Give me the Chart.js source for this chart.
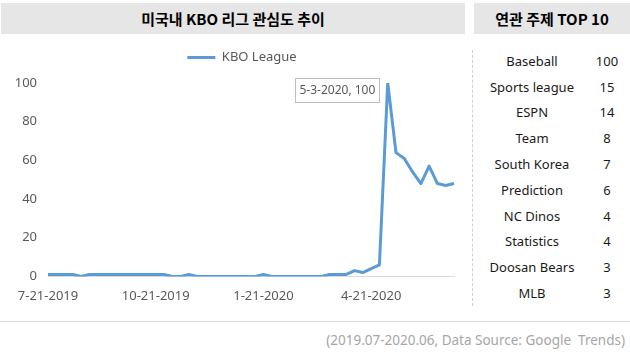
<!DOCTYPE html>
<html>
<head>
<meta charset="utf-8">
<script src="https://cdn.jsdelivr.net/npm/chart.js@4"></script>
<style>
  body { margin: 0; width: 630px; height: 353px; background: #fff; position: relative; overflow: hidden;
         font-family: "Noto Sans", "Noto Sans CJK KR", sans-serif; }
  .bar { position: absolute; top: 3px; height: 31px; background: #e6e6e6; color: #000;
         font: bold 15px "Noto Sans CJK KR", sans-serif; line-height: 31px; text-align: center; }
  #chartBox { position: absolute; left: 0; top: 35px; width: 466px; height: 287px; }
  #sep { position: absolute; left: 472px; top: 50px; height: 256px; border-left: 1px dashed #d0d0d0; }
  #topics { position: absolute; left: 480px; top: 48px; width: 150px; border-collapse: collapse;
            font-size: 13px; color: #1a1a1a; }
  #topics td { height: 25.8px; padding: 0; text-align: center; }
  #foot { position: absolute; left: 0; top: 321px; width: 630px; border-top: 1px solid #d9d9d9; }
  #src { position: absolute; right: 5px; top: 331px; font-size: 13.5px; color: #a6a6a6; }
</style>
</head>
<body>
<div class="bar" style="left:1px;width:464px;">미국내 KBO 리그 관심도 추이</div>
<div class="bar" style="left:474px;width:156px;">연관 주제 TOP 10</div>
<div id="chartBox"><canvas id="canva_line"></canvas></div>
<div id="sep"></div>
<table id="topics"></table>
<div id="foot"></div>
<div id="src">(2019.07-2020.06, Data Source: Google&nbsp; Trends)</div>

<script>
var semanas = [
    '7-21-2019', '7-28-2019', '8-4-2019', '8-11-2019', '8-18-2019', '8-25-2019',
    '9-1-2019', '9-8-2019', '9-15-2019', '9-22-2019', '9-29-2019', '10-6-2019',
    '10-13-2019', '10-20-2019', '10-27-2019', '11-3-2019', '11-10-2019', '11-17-2019',
    '11-24-2019', '12-1-2019', '12-8-2019', '12-15-2019', '12-22-2019', '12-29-2019',
    '1-5-2020', '1-12-2020', '1-19-2020', '1-26-2020', '2-2-2020', '2-9-2020',
    '2-16-2020', '2-23-2020', '3-1-2020', '3-8-2020', '3-15-2020', '3-22-2020',
    '3-29-2020', '4-5-2020', '4-12-2020', '4-19-2020', '4-26-2020', '5-3-2020',
    '5-10-2020', '5-17-2020', '5-24-2020', '5-31-2020', '6-7-2020', '6-14-2020',
    '6-21-2020', '6-28-2020'
];
var interes = [
    1, 1, 1, 1, 0, 1, 1, 1, 1, 1,
    1, 1, 1, 1, 1, 0, 0, 1, 0, 0,
    0, 0, 0, 0, 0, 0, 1, 0, 0, 0,
    0, 0, 0, 0, 1, 1, 1, 3, 2, 4,
    6, 100, 64, 61, 54, 48, 57, 48, 47, 48
];
var etiquetasX = ['7-21-2019', '10-21-2019', '1-21-2020', '4-21-2020'];
var etiquetasY = [0, 20, 40, 60, 80, 100];

var temas = ['Baseball', 'Sports league', 'ESPN', 'Team', 'South Korea',
             'Prediction', 'NC Dinos', 'Statistics', 'Doosan Bears', 'MLB'];
var valoresTemas = [100, 15, 14, 8, 7, 6, 4, 4, 3, 3];

var tabla = document.getElementById('topics');
for (var i = 0; i < temas.length; i++) {
    var fila = tabla.insertRow();
    fila.insertCell().textContent = temas[i];
    fila.insertCell().textContent = valoresTemas[i];
    fila.cells[0].style.width = '104px';
}

// caja con el valor maximo, junto al pico
var etiquetaPico = {
    id: 'etiquetaPico',
    afterDatasetsDraw: function (chart) {
        var ctx = chart.ctx;
        var idx = interes.indexOf(Math.max.apply(null, interes));
        var px = chart.scales.x.getPixelForValue(idx);
        var py = chart.scales.y.getPixelForValue(interes[idx]);
        var texto = semanas[idx] + ', ' + interes[idx];
        ctx.save();
        ctx.font = '12px "Noto Sans", sans-serif';
        var w = Math.round(ctx.measureText(texto).width + 8);
        var x = Math.round(px - 9 - w), y = Math.round(py - 5);
        ctx.fillStyle = '#fff';
        ctx.fillRect(x, y, w, 24);
        ctx.strokeStyle = '#bfbfbf';
        ctx.lineWidth = 1;
        ctx.strokeRect(x + 0.5, y + 0.5, w, 24);
        ctx.fillStyle = '#595959';
        ctx.textBaseline = 'middle';
        ctx.fillText(texto, x + 4.5, y + 12.5);
        ctx.restore();
    }
};

// un poco mas de aire bajo la leyenda, y algo corrida a la derecha
var leyendaAjuste = {
    id: 'leyendaAjuste',
    beforeInit: function (chart) {
        var fitOrig = chart.legend.fit;
        chart.legend.fit = function () {
            fitOrig.bind(chart.legend)();
            this.height += 9;
        };
    },
    afterLayout: function (chart) {
        chart.legend.left += 14;
        chart.legend.right += 14;
    }
};

var ctx = document.getElementById('canva_line').getContext('2d');
var myChartLine = new Chart(ctx, {
    type: 'line',
    data: {
        labels: semanas,
        datasets: [{
            label: 'KBO League',
            data: interes,
            borderColor: '#5b9bd5',
            backgroundColor: '#5b9bd5',
            borderWidth: 3,
            pointRadius: 0,
            tension: 0,
            borderJoinStyle: 'round'
        }]
    },
    options: {
        responsive: true,
        maintainAspectRatio: false,
        animation: false,
        layout: { padding: { top: 4, right: 10, bottom: 6, left: 0 } },
        plugins: {
            tooltip: { enabled: false },
            legend: {
                labels: {
                    usePointStyle: true,
                    pointStyle: 'line',
                    pointStyleWidth: 28,
                    color: '#595959',
                    font: { family: '"Noto Sans", sans-serif', size: 13 },
                    padding: 12
                }
            }
        },
        scales: {
            x: {
                grid: { display: false, drawTicks: false },
                border: { display: true, color: '#d9d9d9', width: 1 },
                ticks: {
                    autoSkip: false,
                    maxRotation: 0,
                    minRotation: 0,
                    padding: 12,
                    color: '#595959',
                    font: { family: '"Noto Sans", sans-serif', size: 13 },
                    callback: function (v, index) {
                        return index % 13 === 0 ? etiquetasX[index / 13] : '';
                    }
                }
            },
            y: {
                min: etiquetasY[0],
                max: etiquetasY[etiquetasY.length - 1],
                afterFit: function (s) { s.width = 48; },
                afterBuildTicks: function (s) {
                    s.ticks = etiquetasY.map(function (v) { return { value: v }; });
                },
                grid: { display: false, drawTicks: false },
                border: { display: false },
                ticks: {
                    padding: 11,
                    color: '#595959',
                    font: { family: '"Noto Sans", sans-serif', size: 13 }
                }
            }
        }
    },
    plugins: [etiquetaPico, leyendaAjuste]
});
</script>
</body>
</html>
